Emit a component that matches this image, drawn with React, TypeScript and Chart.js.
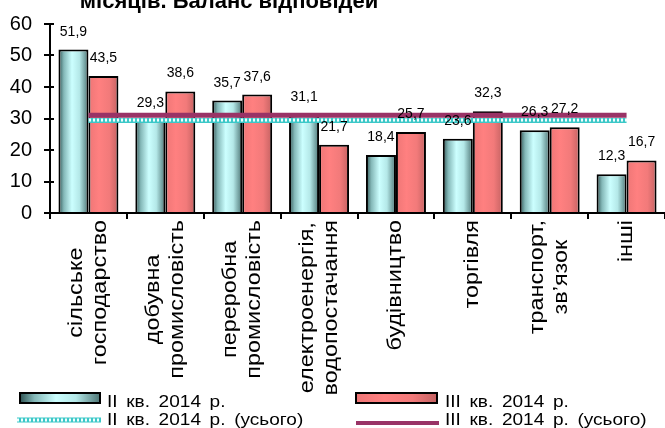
import React, { useEffect, useRef } from 'react';
import { Chart, registerables } from 'chart.js';

Chart.register(...registerables);

const categories: string[][] = [
  ['сільське', 'господарство'],
  ['добувна', 'промисловість'],
  ['переробна', 'промисловість'],
  ['електроенергія,', 'водопостачання'],
  ['будівництво'],
  ['торгівля'],
  ['транспорт,', 'зв’язок'],
  ['інші'],
];
const q2Values = [51.9, 29.3, 35.7, 31.1, 18.4, 23.6, 26.3, 12.3];
const q3Values = [43.5, 38.6, 37.6, 21.7, 25.7, 32.3, 27.2, 16.7];
const q2Total = [29.4, 29.4, 29.4, 29.4, 29.4, 29.4, 29.4, 29.4];
const q3Total = [31.0, 31.0, 31.0, 31.0, 31.0, 31.0, 31.0, 31.0];
const yMin = 0;
const yMax = 60;
const yStep = 10;
const seriesLabels = ['ІІ кв. 2014 р.', 'ІІІ кв. 2014 р.', 'ІІ кв. 2014 р. (усього)', 'ІІІ кв. 2014 р. (усього)'];
const titleText = 'місяців. Баланс відповідей';

const FONT = '"Liberation Sans", Arial, sans-serif';
const CAT_PCT = 0.78;
const PURPLE = '#993366';

function cyanGradient(ctx: CanvasRenderingContext2D, left: number, w: number) {
  const g = ctx.createLinearGradient(left, 0, left + w, 0);
  g.addColorStop(0, '#2e5252');
  g.addColorStop(0.18, '#84b8b8');
  g.addColorStop(0.45, '#ccffff');
  g.addColorStop(0.7, '#b4e8e8');
  g.addColorStop(1, '#4c7474');
  return g;
}
function redGradient(ctx: CanvasRenderingContext2D, left: number, w: number) {
  const g = ctx.createLinearGradient(left, 0, left + w, 0);
  g.addColorStop(0, '#ee7676');
  g.addColorStop(0.35, '#ff8080');
  g.addColorStop(0.7, '#f27a7a');
  g.addColorStop(1, '#c46262');
  return g;
}

function makePattern(ctx: CanvasRenderingContext2D) {
  const pc = document.createElement('canvas');
  pc.width = 4;
  pc.height = 5;
  const p = pc.getContext('2d')!;
  p.fillStyle = '#3cc8c8';
  p.fillRect(0, 0, 4, 5);
  p.fillStyle = '#f0ffff';
  p.fillRect(1, 1, 2, 3);
  return ctx.createPattern(pc, 'repeat')!;
}

function barColor(c: any, which: number) {
  const chart = c.chart;
  const xs = chart.scales?.x;
  if (!xs || !chart.chartArea) return which === 0 ? '#ccffff' : '#ff8080';
  const center = xs.getPixelForValue(c.dataIndex);
  const bw = (xs.width / categories.length) * CAT_PCT / 2;
  const left = which === 0 ? center - bw : center;
  return which === 0 ? cyanGradient(chart.ctx, left, bw) : redGradient(chart.ctx, left, bw);
}

const fmt = (v: number) => v.toFixed(1).replace('.', ',');

export default function App() {
  const ref = useRef<HTMLCanvasElement | null>(null);
  useEffect(() => {
    document.body.style.margin = '0';
    const canvas = ref.current!;
    const ctx0 = canvas.getContext('2d')!;
    const pattern = makePattern(ctx0);

    const patternAt = (y: number) => {
      pattern.setTransform(new DOMMatrix().translate(0, Math.round(y) - 2.5));
      return pattern;
    };

    const customDraw = {
      id: 'customDraw',
      afterDatasetsDraw(chart: any) {
        const ctx = chart.ctx as CanvasRenderingContext2D;
        ctx.save();
        ctx.font = `14px ${FONT}`;
        ctx.fillStyle = '#000';
        ctx.textAlign = 'center';
        ctx.textBaseline = 'alphabetic';
        [0, 1].forEach((di) => {
          const meta = chart.getDatasetMeta(di);
          const vals = chart.data.datasets[di].data as number[];
          meta.data.forEach((el: any, i: number) => {
            ctx.fillText(fmt(vals[i]), el.x, el.y - 14);
          });
        });
        ctx.restore();
      },
      afterDraw(chart: any) {
        const ctx = chart.ctx as CanvasRenderingContext2D;
        const xs = chart.scales.x;
        const ys = chart.scales.y;
        ctx.save();
        // inner tick marks on y axis
        ctx.strokeStyle = '#000';
        ctx.lineWidth = 2;
        for (let v = yMin; v <= yMax; v += yStep) {
          const y = Math.round(ys.getPixelForValue(v));
          ctx.beginPath();
          ctx.moveTo(xs.left, y);
          ctx.lineTo(xs.left + 4, y);
          ctx.stroke();
        }
        // title (last line, partly cut)
        ctx.font = `bold 22px ${FONT}`;
        ctx.fillStyle = '#000';
        ctx.textAlign = 'center';
        ctx.textBaseline = 'alphabetic';
        ctx.fillText(titleText, 229, 8);

        // x labels (rotated, lines centred, slightly widened glyphs)
        ctx.font = `20px ${FONT}`;
        const stretch = 1.17;
        const lh = 24;
        const top = 220;
        categories.forEach((lines, i) => {
          const cx = xs.getPixelForValue(i);
          const maxW = Math.max(...lines.map((l) => ctx.measureText(l).width)) * stretch;
          const n = lines.length;
          lines.forEach((l, j) => {
            const x = cx + (j - (n - 1) / 2) * lh;
            ctx.save();
            ctx.translate(x, top + maxW / 2);
            ctx.rotate(-Math.PI / 2);
            ctx.scale(stretch, 1);
            ctx.textAlign = 'center';
            ctx.textBaseline = 'middle';
            ctx.fillText(l, 0, 0);
            ctx.restore();
          });
        });

        // legend
        const drawBox = (x: number, w: number, fill: any) => {
          ctx.fillStyle = fill;
          ctx.fillRect(x, 393, w, 10);
          ctx.strokeStyle = '#000';
          ctx.lineWidth = 2;
          ctx.strokeRect(x, 393, w, 10);
        };
        drawBox(20, 80, cyanGradient(ctx, 20, 80));
        drawBox(356, 81, redGradient(ctx, 356, 81));
        ctx.lineWidth = 5;
        ctx.strokeStyle = patternAt(420);
        ctx.beginPath();
        ctx.moveTo(17, 420);
        ctx.lineTo(101, 420);
        ctx.stroke();
        ctx.strokeStyle = PURPLE;
        ctx.lineWidth = 4;
        ctx.beginPath();
        ctx.moveTo(356, 423);
        ctx.lineTo(439, 423);
        ctx.stroke();

        const legendText = (t: string, x: number, y: number) => {
          ctx.save();
          ctx.font = `17px ${FONT}`;
          (ctx as any).wordSpacing = '3px';
          ctx.textAlign = 'left';
          ctx.textBaseline = 'alphabetic';
          ctx.fillStyle = '#000';
          ctx.translate(x, y);
          ctx.scale(1.12, 1);
          ctx.fillText(t, 0, 0);
          ctx.restore();
        };
        legendText(seriesLabels[0], 107, 407);
        legendText(seriesLabels[1], 445, 407);
        legendText(seriesLabels[2], 107, 425);
        legendText(seriesLabels[3], 445, 425);
        ctx.restore();
      },
    };

    const chart = new Chart(canvas, {
      type: 'bar',
      data: {
        labels: categories,
        datasets: [
          {
            type: 'bar',
            label: seriesLabels[0],
            data: q2Values,
            backgroundColor: (c: any) => barColor(c, 0),
            borderColor: '#000',
            borderWidth: 2,
            categoryPercentage: CAT_PCT,
            barPercentage: 1,
            order: 2,
          },
          {
            type: 'bar',
            label: seriesLabels[1],
            data: q3Values,
            backgroundColor: (c: any) => barColor(c, 1),
            borderColor: '#000',
            borderWidth: 2,
            categoryPercentage: CAT_PCT,
            barPercentage: 1,
            order: 2,
          },
          {
            type: 'line',
            label: seriesLabels[2],
            data: q2Total,
            borderColor: (c: any) => {
              const ys = c.chart.scales?.y;
              if (!ys) return '#3cc8c8';
              return patternAt(ys.getPixelForValue(q2Total[0]));
            },
            borderWidth: 5,
            pointRadius: 0,
            fill: false,
            order: 1,
          } as any,
          {
            type: 'line',
            label: seriesLabels[3],
            data: q3Total,
            borderColor: PURPLE,
            borderWidth: 5,
            pointRadius: 0,
            fill: false,
            order: 1,
          } as any,
        ],
      },
      options: {
        animation: false,
        responsive: false,
        devicePixelRatio: 1,
        layout: { padding: { top: 23, bottom: 209, left: 0, right: 0 } },
        plugins: {
          legend: { display: false },
          title: { display: false },
          tooltip: { enabled: false },
        },
        scales: {
          x: {
            type: 'category',
            offset: true,
            ticks: { display: false },
            grid: {
              offset: true,
              drawOnChartArea: false,
              tickLength: 6,
              color: '#000',
              lineWidth: 2,
            },
            border: { display: true, color: '#000', width: 2 },
          },
          y: {
            min: yMin,
            max: yMax,
            ticks: {
              stepSize: yStep,
              color: '#000',
              padding: 12,
              font: { family: FONT, size: 20 },
            },
            grid: {
              drawOnChartArea: false,
              tickLength: 6,
              color: '#000',
              lineWidth: 2,
            },
            border: { display: true, color: '#000', width: 2 },
            afterFit: (s: any) => {
              s.width = 50;
            },
          },
        },
      },
      plugins: [customDraw],
    } as any);
    return () => chart.destroy();
  }, []);

  return <canvas ref={ref} width={665} height={428} style={{ display: 'block' }} />;
}
